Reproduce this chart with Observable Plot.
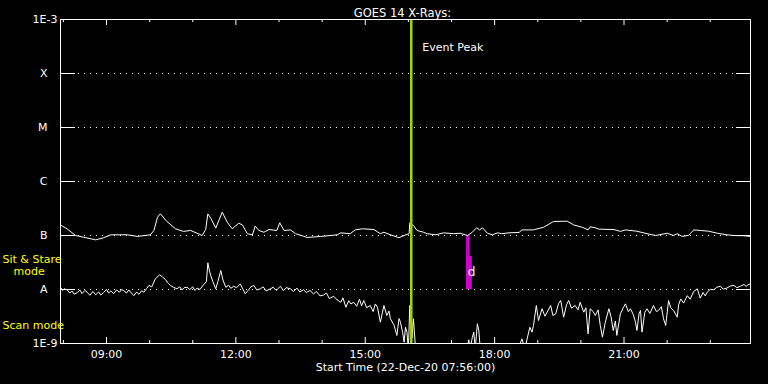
<!DOCTYPE html>
<html><head><meta charset="utf-8">
<script src="https://cdn.jsdelivr.net/npm/d3@7"></script>
<script src="https://cdn.jsdelivr.net/npm/@observablehq/plot@0.6"></script>
<style>html,body{margin:0;padding:0;background:#000;overflow:hidden}</style>
</head><body><div id="chart"></div>
<script>
const day = "2020-12-22";
const startTime = "07:56", endTime = "23:56";
const eventPeakTime = "16:04";
const titleText = "GOES 14 X-Rays:";
const xLabelText = "Start Time (22-Dec-20 07:56:00)";
const eventText = "Event Peak";

// Long channel (1-8 A)
const longTimes = ["07:56","08:05","08:17","08:28","08:45","08:56","09:06","09:29","09:43","10:01","10:06","10:11","10:15","10:24","10:36","10:47","10:57","11:06","11:13","11:18","11:21","11:25","11:32","11:41","11:48","11:55","12:04","12:09","12:16","12:23","12:27","12:32","12:39","12:46","12:57","13:01","13:07","13:16","13:23","13:34","13:39","13:58","14:21","14:26","14:39","14:46","14:56","15:12","15:21","15:26","15:35","15:47","15:54","16:01","16:02","16:07","16:12","16:21","16:26","16:38","16:49","17:03","17:12","17:22","17:29","17:35","17:39","17:43","17:50","17:57","18:04","18:10","18:20","18:34","18:38","18:54","19:08","19:22","19:41","19:50","20:02","20:10","20:13","20:20","20:25","20:46","20:55","21:02","21:18","21:32","21:44","22:00","22:09","22:14","22:21","22:30","22:37","22:46","22:58","23:10","23:23","23:33","23:47","23:56"];
const longFlux = [1.57e-7,1.33e-7,1.00e-7,9.3e-8,8.3e-8,9.1e-8,1.03e-7,1.03e-7,9.6e-8,1.03e-7,1.24e-7,2.18e-7,2.52e-7,1.82e-7,1.33e-7,1.19e-7,1.24e-7,1.10e-7,1.00e-7,1.29e-7,2.52e-7,2.09e-7,1.37e-7,2.70e-7,1.76e-7,1.33e-7,1.69e-7,1.57e-7,1.08e-7,1.03e-7,1.49e-7,1.24e-7,1.15e-7,1.29e-7,1.24e-7,1.72e-7,1.24e-7,1.27e-7,1.08e-7,9.7e-8,9.2e-8,9.6e-8,1.03e-7,1.12e-7,1.08e-7,1.27e-7,1.33e-7,1.29e-7,1.08e-7,1.15e-7,1.03e-7,9.1e-8,1.00e-7,1.08e-7,1.72e-7,1.53e-7,1.24e-7,1.15e-7,1.08e-7,1.03e-7,1.12e-7,1.08e-7,1.10e-7,1.00e-7,1.15e-7,1.39e-7,1.27e-7,1.39e-7,1.10e-7,1.03e-7,1.12e-7,1.08e-7,1.12e-7,1.14e-7,1.27e-7,1.27e-7,1.42e-7,1.82e-7,1.84e-7,1.57e-7,1.42e-7,1.27e-7,1.45e-7,1.39e-7,1.31e-7,1.29e-7,1.19e-7,1.27e-7,1.20e-7,1.08e-7,1.00e-7,1.10e-7,1.00e-7,1.08e-7,9.6e-8,1.01e-7,1.27e-7,1.24e-7,1.20e-7,1.10e-7,1.03e-7,1.00e-7,9.9e-8,9.6e-8];

// Short channel (0.5-4 A)
const shortTimes = ["07:56","07:59","08:01","08:05","08:09","08:12","08:15","08:19","08:23","08:26","08:30","08:33","08:37","08:41","08:45","08:49","08:52","08:56","09:00","09:03","09:06","09:10","09:14","09:18","09:21","09:24","09:28","09:31","09:35","09:38","09:42","09:45","09:49","09:52","09:56","09:59","10:03","10:08","10:14","10:18","10:22","10:26","10:29","10:33","10:38","10:42","10:45","10:48","10:52","10:56","11:00","11:03","11:06","11:10","11:15","11:19","11:21","11:23","11:25","11:28","11:32","11:35","11:39","11:42","11:46","11:50","11:53","11:57","12:01","12:06","12:10","12:13","12:17","12:21","12:25","12:29","12:34","12:38","12:42","12:48","12:52","12:56","13:02","13:06","13:10","13:16","13:20","13:25","13:29","13:34","13:38","13:43","13:48","13:52","13:57","14:02","14:06","14:10","14:16","14:21","14:26","14:29","14:33","14:37","14:40","14:44","14:48","14:52","14:55","14:58","15:02","15:07","15:11","15:14","15:17","15:21","15:24","15:26","15:30","15:33","15:35","15:40","15:44","15:47","15:49","15:52","15:54","15:56","15:58","16:00","16:02","16:05","16:07","16:10","16:40","17:22","17:24","17:26","17:29","17:31","17:33","17:36","17:38","17:40","18:10","18:33","18:38","18:42","18:49","18:52","18:54","18:58","19:01","19:06","19:10","19:13","19:18","19:21","19:25","19:29","19:32","19:36","19:40","19:43","19:47","19:52","19:56","19:59","20:04","20:07","20:10","20:13","20:17","20:20","20:24","20:27","20:30","20:34","20:39","20:42","20:45","20:48","20:50","20:55","20:59","21:02","21:06","21:09","21:13","21:16","21:18","21:21","21:23","21:25","21:29","21:32","21:36","21:41","21:45","21:48","21:52","21:55","21:58","22:02","22:05","22:09","22:14","22:16","22:19","22:23","22:28","22:32","22:37","22:42","22:46","22:50","22:53","22:56","23:00","23:05","23:09","23:14","23:18","23:23","23:28","23:33","23:37","23:42","23:47","23:50","23:54","23:56"];
const shortFlux = [1.10e-8,9.6e-9,1.03e-8,9.9e-9,8.6e-9,9.4e-9,8.2e-9,8.7e-9,9.8e-9,8.4e-9,9.6e-9,8.9e-9,7.8e-9,9.2e-9,8.0e-9,9.0e-9,7.9e-9,8.8e-9,1.00e-8,8.6e-9,9.4e-9,8.4e-9,9.8e-9,8.9e-9,1.0e-8,9.5e-9,8.6e-9,9.8e-9,8.5e-9,7.7e-9,9.0e-9,8.1e-9,9.5e-9,8.9e-9,1.05e-8,1.19e-8,1.12e-8,1.58e-8,1.87e-8,1.70e-8,1.53e-8,1.30e-8,1.19e-8,1.10e-8,1.03e-8,1.12e-8,9.8e-9,1.08e-8,1.10e-8,1.00e-8,1.12e-8,9.6e-9,1.06e-8,1.00e-8,1.22e-8,1.40e-8,3.12e-8,2.30e-8,1.82e-8,1.40e-8,1.03e-8,1.40e-8,2.25e-8,1.50e-8,1.10e-8,1.20e-8,1.05e-8,1.15e-8,1.08e-8,1.27e-8,1.00e-8,8.3e-9,9.6e-9,1.12e-8,1.19e-8,9.8e-9,1.03e-8,1.12e-8,9.4e-9,1.03e-8,1.10e-8,9.6e-9,1.15e-8,9.5e-9,1.08e-8,1.03e-8,9.2e-9,1.06e-8,9.0e-9,9.9e-9,8.8e-9,9.6e-9,8.3e-9,9.2e-9,7.6e-9,7.9e-9,8.6e-9,6.8e-9,7.5e-9,6.4e-9,5.8e-9,7.0e-9,4.7e-9,6.2e-9,5.4e-9,5.8e-9,4.9e-9,6.6e-9,5.0e-9,6.25e-9,4.6e-9,5.05e-9,3.9e-9,5.4e-9,4.7e-9,2.48e-9,3.8e-9,5.05e-9,3.3e-9,4.0e-9,2.87e-9,2.2e-9,1.41e-9,2.9e-9,2.48e-9,1.6e-9,1.06e-9,2.0e-9,1.62e-9,8e-10,5.05e-9,1.24e-9,2.87e-9,8e-10,8e-10,8e-10,1.17e-9,8e-10,1.31e-9,1.62e-9,8e-10,2.32e-9,1.74e-9,8e-10,8e-10,8e-10,1.22e-9,8e-10,2.0e-9,1.62e-9,2.15e-9,5.05e-9,2.67e-9,4.4e-9,3.2e-9,3.8e-9,5.05e-9,3.3e-9,3.55e-9,5.5e-9,6.25e-9,3.07e-9,5.2e-9,6.25e-9,4.5e-9,5.05e-9,4.2e-9,5.8e-9,3.8e-9,4.6e-9,1.51e-9,4.4e-9,3.9e-9,3.3e-9,4.2e-9,2.15e-9,1.31e-9,2.48e-9,4.4e-9,3.1e-9,1.74e-9,2.6e-9,1.41e-9,3.55e-9,4.6e-9,5.43e-9,3.9e-9,4.4e-9,3.4e-9,2.48e-9,1.74e-9,3.6e-9,4.08e-9,1.62e-9,3.8e-9,4.4e-9,3.6e-9,5.05e-9,3.9e-9,4.08e-9,4.8e-9,2.87e-9,2.15e-9,6.25e-9,4.6e-9,4.08e-9,3.07e-9,5.2e-9,6.7e-9,5.6e-9,7.7e-9,6.6e-9,9.2e-9,1.03e-8,6.9e-9,8.8e-9,7.6e-9,8.9e-9,1.01e-8,9.9e-9,1.10e-8,1.15e-8,1.02e-8,1.06e-8,1.16e-8,1.19e-8,1.08e-8,1.15e-8,1.24e-8,1.14e-8,1.27e-8,1.22e-8];

// Mode intervals (magenta)
const modeStart = ["17:21","17:21"];
const modeEnd = ["17:26","17:29"];
const modeLow = [1e-8, 1e-8];
const modeHigh = [1e-7, 4.1e-8];
const markerTime = "17:28", markerFlux = 2.06e-8, markerText = "d";

// Axis ticks & labels
const yTickValues = [1e-9,1e-8,1e-7,1e-6,1e-5,1e-4,1e-3];
const yTickLabels = ["1E-9","A","B","C","M","X","1E-3"];
const classLevels = [1e-8,1e-7,1e-6,1e-5,1e-4];
const edgeLevels = [1e-9,1e-3];
const majorHours = ["09:00","12:00","15:00","18:00","21:00"];
const minorHours = ["08:00","10:00","11:00","13:00","14:00","16:00","17:00","19:00","20:00","22:00","23:00"];
const modeLabelTexts = ["Sit & Stare","mode","Scan mode"];
const modeLabelFlux = [3.67e-8, 2.2e-8, 2.2e-9];

// layout
const W = 768, H = 384, mL = 60, mR = 18, mT = 19, mB = 41;
const fw = W - mL - mR, fh = H - mT - mB;
const majorLen = 6, minorLen = 3, gridSolid = 15;

const T = s => new Date(`${day}T${s}:00Z`);
const labelOf = v => yTickLabels[yTickValues.findIndex(t => Math.abs(Math.log10(t) - Math.log10(v)) < 1e-6)];

const longData = longTimes.map((t,i) => ({t: T(t), f: longFlux[i]}));
const shortData = shortTimes.map((t,i) => ({t: T(t), f: shortFlux[i]}));
const modeData = modeStart.map((s,i) => ({x1: T(s), x2: T(modeEnd[i]), y1: modeLow[i], y2: modeHigh[i]}));
const modeLabels = modeLabelTexts.map((s,i) => ({text: s, f: modeLabelFlux[i]}));
const majorD = majorHours.map(T), minorD = minorHours.map(T);

const chart = Plot.plot({
  width: W, height: H,
  marginLeft: mL, marginRight: mR, marginTop: mT, marginBottom: mB,
  style: {background: "#000", color: "#fff", fontFamily: "DejaVu Sans", fontSize: "11px"},
  x: {type: "utc", domain: [T(startTime), T(endTime)], label: null},
  y: {type: "log", domain: [1e-9, 1e-3], label: null},
  marks: [
    Plot.ruleY(classLevels, {stroke: "#fff", strokeDasharray: "1,5"}),
    // solid inner segments of class lines
    Plot.ruleY(classLevels, {stroke: "#fff", insetRight: fw - gridSolid}),
    Plot.ruleY(classLevels, {stroke: "#fff", insetLeft: fw - gridSolid + 1}),
    // inward hour ticks, bottom and top
    Plot.ruleX(majorD, {stroke: "#fff", insetTop: fh - majorLen}),
    Plot.ruleX(minorD, {stroke: "#fff", insetTop: fh - minorLen}),
    Plot.ruleX(majorD, {stroke: "#fff", insetBottom: fh - majorLen}),
    Plot.ruleX(minorD, {stroke: "#fff", insetBottom: fh - minorLen}),
    Plot.axisY(edgeLevels, {anchor: "left", tickSize: 0, tickPadding: 3, tickFormat: labelOf, label: null, fill: "#fff"}),
    Plot.axisY(classLevels, {anchor: "left", tickSize: 0, tickPadding: 13, tickFormat: labelOf, label: null, fill: "#fff"}),
    Plot.axisX(majorD, {anchor: "bottom", tickSize: 0, tickPadding: 7, tickFormat: d3.utcFormat("%H:%M"), label: null, fill: "#fff"}),
    Plot.rect(modeData, {x1: "x1", x2: "x2", y1: "y1", y2: "y2", fill: "#d000d0"}),
    Plot.line(longData, {x: "t", y: "f", stroke: "#fff", strokeWidth: 1, clip: true}),
    Plot.line(shortData, {x: "t", y: "f", stroke: "#fff", strokeWidth: 1, clip: true}),
    Plot.text([{t: T(markerTime), f: markerFlux}], {x: "t", y: "f", text: () => markerText, fill: "#fff", fontSize: 12}),
    Plot.ruleX([T(eventPeakTime)], {stroke: "#a4d400", strokeWidth: 2.5}),
    Plot.text([T(eventPeakTime)], {x: d => d, text: () => eventText, frameAnchor: "top", dy: 24, dx: 11, textAnchor: "start", fill: "#fff"}),
    Plot.frame({stroke: "#fff"}),
    Plot.text([titleText], {text: d => d, frameAnchor: "top", dy: -11, dx: -3, fill: "#fff", fontSize: 11.5}),
    Plot.text([xLabelText], {text: d => d, frameAnchor: "bottom", dy: 27, fill: "#fff"}),
    Plot.text(modeLabels.filter(d => d.text !== "mode"), {y: "f", text: "text", frameAnchor: "left", dx: -58, textAnchor: "start", fill: "#ffff00"}),
    Plot.text(modeLabels.filter(d => d.text === "mode"), {y: "f", text: "text", frameAnchor: "left", dx: -47, textAnchor: "start", fill: "#ffff00"})
  ]
});
document.getElementById("chart").appendChild(chart);
</script>
</body></html>
